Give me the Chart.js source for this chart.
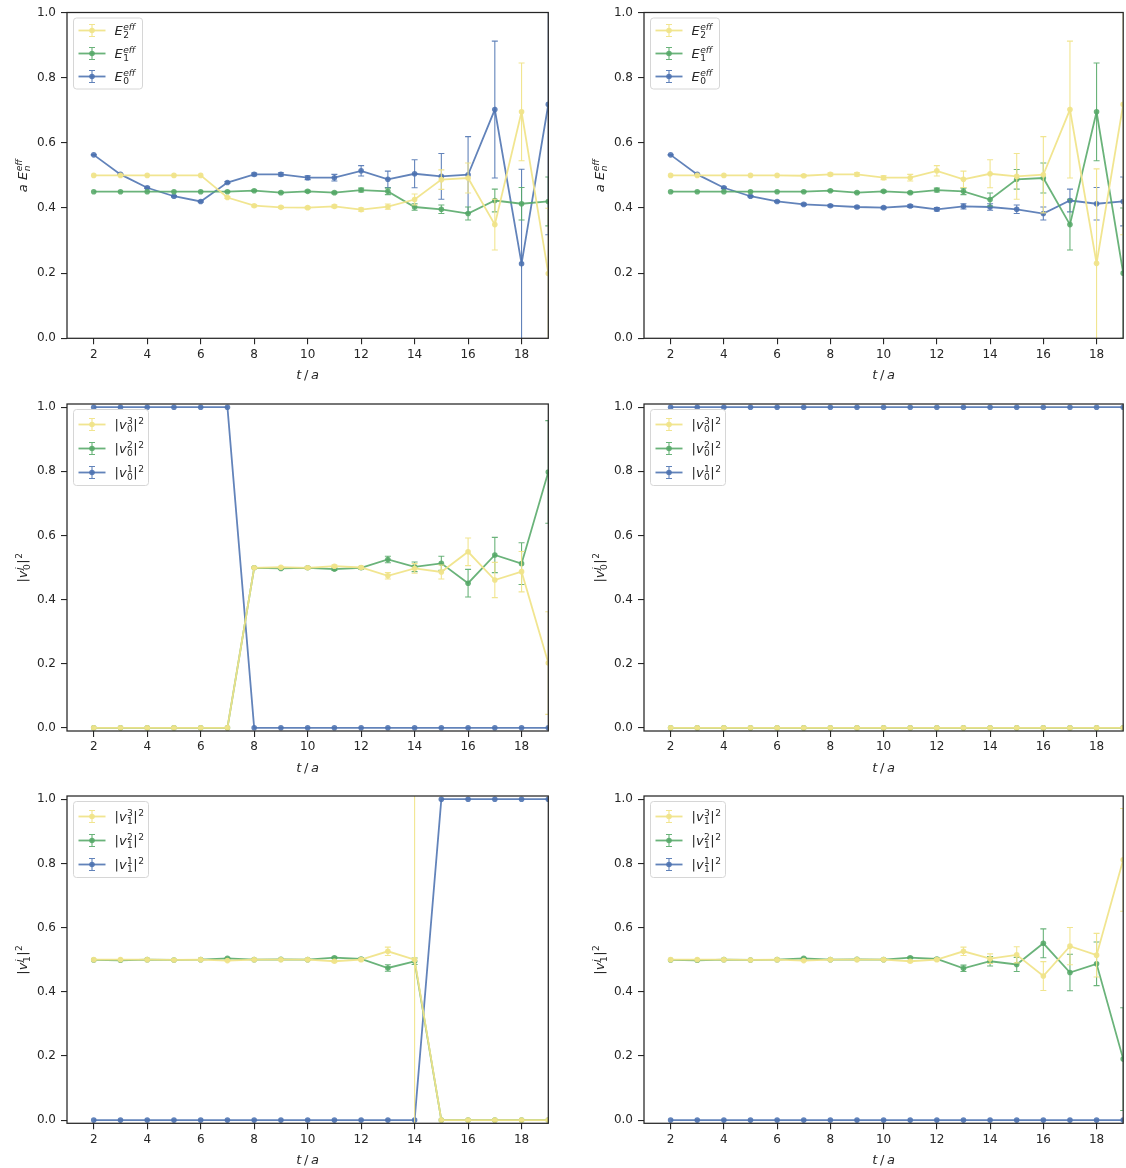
<!DOCTYPE html>
<html>
<head>
<meta charset="utf-8">
<script src="https://cdn.jsdelivr.net/npm/chart.js@4.4.1/dist/chart.umd.min.js"></script>
<style>
  html, body { margin: 0; padding: 0; background: #fff; }
  #fig { position: relative; width: 1126px; height: 1168px; overflow: hidden; }
  #fig canvas { position: absolute; }
</style>
</head>
<body>
<div id="fig"></div>
<script>
// time slices and axis ticks
const tVals  = [2, 3, 4, 5, 6, 7, 8, 9, 10, 11, 12, 13, 14, 15, 16, 17, 18, 19];
const xTicks = [2, 4, 6, 8, 10, 12, 14, 16, 18];
const yTicks = [0, 0.2, 0.4, 0.6, 0.8, 1.0];

// effective energies, first fit
const aE2    = [0.500, 0.500, 0.500, 0.500, 0.500, 0.432, 0.407, 0.402, 0.401, 0.405, 0.395, 0.404, 0.426, 0.487, 0.492, 0.349, 0.695, 0.199];
const aE2Err = [0, 0, 0, 0, 0, 0.003, 0.003, 0.003, 0.003, 0.004, 0.005, 0.008, 0.017, 0.030, 0.046, 0.078, 0.150, 0.200];
const aE1    = [0.450, 0.450, 0.450, 0.450, 0.450, 0.450, 0.453, 0.447, 0.451, 0.447, 0.455, 0.451, 0.403, 0.396, 0.383, 0.423, 0.413, 0.420];
const aE1Err = [0, 0, 0, 0, 0, 0.001, 0.002, 0.002, 0.003, 0.003, 0.006, 0.010, 0.010, 0.013, 0.020, 0.035, 0.050, 0.075];
const aE0    = [0.563, 0.503, 0.462, 0.436, 0.420, 0.478, 0.503, 0.503, 0.493, 0.493, 0.514, 0.488, 0.505, 0.497, 0.502, 0.702, 0.229, 0.718];
const aE0Err = [0.001, 0.001, 0.002, 0.002, 0.002, 0.003, 0.004, 0.005, 0.006, 0.010, 0.016, 0.025, 0.043, 0.070, 0.117, 0.210, 0.290, 0.400];

// effective energies, sorted
const bE2    = [0.500, 0.500, 0.500, 0.500, 0.500, 0.499, 0.503, 0.503, 0.493, 0.493, 0.514, 0.488, 0.505, 0.497, 0.502, 0.702, 0.230, 0.718];
const bE2Err = [0, 0, 0, 0, 0, 0.003, 0.004, 0.005, 0.006, 0.010, 0.016, 0.025, 0.043, 0.070, 0.117, 0.210, 0.290, 0.400];
const bE1    = [0.450, 0.450, 0.450, 0.450, 0.450, 0.450, 0.453, 0.447, 0.451, 0.447, 0.455, 0.451, 0.426, 0.488, 0.492, 0.349, 0.695, 0.200];
const bE1Err = [0, 0, 0, 0, 0, 0.001, 0.002, 0.002, 0.003, 0.003, 0.006, 0.010, 0.020, 0.030, 0.046, 0.078, 0.150, 0.200];
const bE0    = [0.563, 0.503, 0.462, 0.436, 0.420, 0.411, 0.407, 0.403, 0.401, 0.406, 0.396, 0.405, 0.403, 0.396, 0.383, 0.423, 0.413, 0.420];
const bE0Err = [0.001, 0.001, 0.002, 0.002, 0.002, 0.003, 0.003, 0.003, 0.003, 0.004, 0.005, 0.008, 0.010, 0.013, 0.020, 0.035, 0.050, 0.075];

// ground-state vector components
const cV3    = [0, 0, 0, 0, 0, 0, 0.499, 0.501, 0.499, 0.504, 0.500, 0.474, 0.497, 0.486, 0.549, 0.461, 0.487, 0.202];
const cV3Err = [0, 0, 0, 0, 0, 0, 0.002, 0.002, 0.003, 0.004, 0.004, 0.010, 0.015, 0.022, 0.043, 0.055, 0.063, 0.160];
const cV2    = [0, 0, 0, 0, 0, 0, 0.499, 0.497, 0.499, 0.495, 0.499, 0.525, 0.502, 0.513, 0.451, 0.539, 0.512, 0.798];
const cV2Err = [0, 0, 0, 0, 0, 0, 0.002, 0.002, 0.003, 0.004, 0.004, 0.010, 0.015, 0.022, 0.043, 0.055, 0.065, 0.160];
const cV1    = [1, 1, 1, 1, 1, 1, 0, 0, 0, 0, 0, 0, 0, 0, 0, 0, 0, 0];
const cV1Err = [0, 0, 0, 0, 0, 0, 0, 0, 0, 0, 0, 0, 0, 0, 0, 0, 0, 0];

const dV3    = [0, 0, 0, 0, 0, 0, 0, 0, 0, 0, 0, 0, 0, 0, 0, 0, 0, 0];
const dV3Err = [0, 0, 0, 0, 0, 0, 0, 0, 0, 0, 0, 0, 0, 0, 0, 0, 0, 0];
const dV2    = [0, 0, 0, 0, 0, 0, 0, 0, 0, 0, 0, 0, 0, 0, 0, 0, 0, 0];
const dV2Err = [0, 0, 0, 0, 0, 0, 0, 0, 0, 0, 0, 0, 0, 0, 0, 0, 0, 0];
const dV1    = [1, 1, 1, 1, 1, 1, 1, 1, 1, 1, 1, 1, 1, 1, 1, 1, 1, 1];
const dV1Err = [0, 0, 0, 0, 0, 0, 0, 0, 0, 0, 0, 0, 0, 0, 0, 0, 0, 0];

// first excited-state vector components
const eV3    = [0.500, 0.500, 0.500, 0.499, 0.500, 0.497, 0.500, 0.500, 0.500, 0.495, 0.500, 0.526, 0.500, 0, 0, 0, 0, 0];
const eV3Err = [0, 0, 0, 0, 0, 0.001, 0.001, 0.001, 0.002, 0.002, 0.003, 0.013, 0.600, 0, 0, 0, 0, 0];
const eV2    = [0.499, 0.498, 0.500, 0.499, 0.500, 0.504, 0.500, 0.501, 0.500, 0.506, 0.502, 0.474, 0.495, 0, 0, 0, 0, 0];
const eV2Err = [0, 0, 0, 0, 0, 0.001, 0.001, 0.001, 0.002, 0.002, 0.003, 0.010, 0.010, 0, 0, 0, 0, 0];
const eV1    = [0, 0, 0, 0, 0, 0, 0, 0, 0, 0, 0, 0, 0, 1, 1, 1, 1, 1];
const eV1Err = [0, 0, 0, 0, 0, 0, 0, 0, 0, 0, 0, 0, 0, 0, 0, 0, 0, 0];

const fV3    = [0.500, 0.500, 0.500, 0.499, 0.500, 0.497, 0.500, 0.500, 0.500, 0.495, 0.500, 0.526, 0.503, 0.515, 0.449, 0.542, 0.514, 0.811];
const fV3Err = [0, 0, 0, 0, 0, 0.001, 0.001, 0.001, 0.002, 0.002, 0.003, 0.013, 0.015, 0.025, 0.045, 0.058, 0.068, 0.160];
const fV2    = [0.499, 0.498, 0.500, 0.499, 0.500, 0.504, 0.500, 0.501, 0.500, 0.506, 0.502, 0.473, 0.495, 0.485, 0.551, 0.460, 0.487, 0.190];
const fV2Err = [0, 0, 0, 0, 0, 0.001, 0.001, 0.001, 0.002, 0.002, 0.003, 0.010, 0.015, 0.022, 0.045, 0.057, 0.068, 0.160];
const fV1    = [0, 0, 0, 0, 0, 0, 0, 0, 0, 0, 0, 0, 0, 0, 0, 0, 0, 0];
const fV1Err = [0, 0, 0, 0, 0, 0, 0, 0, 0, 0, 0, 0, 0, 0, 0, 0, 0, 0];

const COL = {
  yellow: 'rgba(240,228,138,0.95)',
  green:  'rgba(85,168,104,0.88)',
  blue:   'rgba(76,114,176,0.88)',
};
const INK  = '#262626';
const FONT = '"DejaVu Sans", sans-serif';

// label pieces: {t, it} is plain text, {sup, sub} is a stacked script group
const eLab = n => [{ t: 'E', it: 1 }, { sup: 'eff', supIt: 1, sub: String(n) }];
const vLab = (s, n) => [{ t: '|' }, { t: 'v', it: 1 }, { sup: String(n), sub: String(s) }, { t: '|' }, { sup: '2' }];
const Y_E  = [{ t: 'a', it: 1 }, { t: ' ' }, { t: 'E', it: 1 }, { sup: 'eff', supIt: 1, sub: 'n', subIt: 1 }];
const Y_V  = s => [{ t: '|' }, { t: 'v', it: 1 }, { sup: 'j', supIt: 1, sub: String(s) }, { t: '|' }, { sup: '2' }];
const X_T  = [{ t: 't', it: 1 }, { t: '\u2009/\u2009' }, { t: 'a', it: 1 }];

function mathRun(ctx, parts, size, x, y, draw) {
  let cx = x;
  const ss = size * 0.7;
  for (const p of parts) {
    if (p.t != null) {
      ctx.font = (p.it ? 'italic ' : '') + size + 'px ' + FONT;
      if (draw) ctx.fillText(p.t, cx, y);
      cx += ctx.measureText(p.t).width;
    } else {
      let w = 0;
      if (p.sup) {
        ctx.font = (p.supIt ? 'italic ' : '') + ss + 'px ' + FONT;
        if (draw) ctx.fillText(p.sup, cx + 0.5, y - size * 0.4);
        w = Math.max(w, ctx.measureText(p.sup).width);
      }
      if (p.sub) {
        ctx.font = (p.subIt ? 'italic ' : '') + ss + 'px ' + FONT;
        if (draw) ctx.fillText(p.sub, cx + 0.5, y + size * 0.22);
        w = Math.max(w, ctx.measureText(p.sub).width);
      }
      cx += w + 1;
    }
  }
  return cx - x;
}

// vertical error bars with caps, drawn just under each dataset's line
const errorBars = {
  id: 'errorBars',
  beforeDatasetDraw(chart, args) {
    const ds = chart.data.datasets[args.index];
    if (!ds.err) return;
    const { ctx, chartArea: a, scales: { x, y } } = chart;
    ctx.save();
    ctx.beginPath();
    ctx.rect(a.left, a.top, a.right - a.left, a.bottom - a.top);
    ctx.clip();
    ctx.strokeStyle = ds.borderColor;
    ctx.lineWidth = 1.1;
    ds.data.forEach((p, i) => {
      const e = ds.err[i];
      if (!e) return;
      const px = x.getPixelForValue(p.x);
      const y1 = y.getPixelForValue(p.y - e), y2 = y.getPixelForValue(p.y + e);
      ctx.beginPath();
      ctx.moveTo(px, y1); ctx.lineTo(px, y2);
      ctx.moveTo(px - 3, y1); ctx.lineTo(px + 3, y1);
      ctx.moveTo(px - 3, y2); ctx.lineTo(px + 3, y2);
      ctx.stroke();
    });
    ctx.restore();
  },
};

// axes frame, axis titles and the legend box
const decor = {
  id: 'decor',
  afterDraw(chart, args, o) {
    const { ctx, chartArea: a } = chart;
    ctx.save();
    ctx.strokeStyle = INK;
    ctx.lineWidth = 1.25;
    ctx.strokeRect(a.left, a.top, a.right - a.left, a.bottom - a.top);

    ctx.fillStyle = INK;
    ctx.textBaseline = 'alphabetic';
    const xw = mathRun(ctx, X_T, 13, 0, 0, false);
    mathRun(ctx, X_T, 13, (a.left + a.right) / 2 - xw / 2, a.bottom + 41, true);

    const yw = mathRun(ctx, o.yTitle, 13, 0, 0, false);
    ctx.save();
    ctx.translate(a.left - 40, (a.top + a.bottom) / 2);
    ctx.rotate(-Math.PI / 2);
    mathRun(ctx, o.yTitle, 13, -yw / 2, 0, true);
    ctx.restore();

    // legend
    const bx = a.left + 6.5, by = a.top + 5.5, bw = o.legW, bh = o.legH;
    ctx.beginPath();
    ctx.roundRect(bx, by, bw, bh, 3);
    ctx.fillStyle = 'rgba(255,255,255,0.85)';
    ctx.fill();
    ctx.strokeStyle = '#d6d6d6';
    ctx.lineWidth = 1;
    ctx.stroke();
    chart.data.datasets.forEach((ds, i) => {
      const cy = by + o.legFirst + i * o.legGap;
      const gx = bx + 18.5;
      ctx.strokeStyle = ds.borderColor;
      ctx.lineWidth = 1.8;
      ctx.beginPath(); ctx.moveTo(bx + 5, cy); ctx.lineTo(bx + 32, cy); ctx.stroke();
      ctx.lineWidth = 1.1;
      ctx.beginPath();
      ctx.moveTo(gx, cy - 6); ctx.lineTo(gx, cy + 6);
      ctx.moveTo(gx - 3, cy - 6); ctx.lineTo(gx + 3, cy - 6);
      ctx.moveTo(gx - 3, cy + 6); ctx.lineTo(gx + 3, cy + 6);
      ctx.stroke();
      ctx.fillStyle = ds.borderColor;
      ctx.beginPath(); ctx.arc(gx, cy, 2.8, 0, Math.PI * 2); ctx.fill();
      ctx.fillStyle = INK;
      mathRun(ctx, ds.math, 13, bx + 41, cy + 4.5, true);
    });
    ctx.restore();
  },
};

const COLS = [{ x: 0, w: 563, l: 67, r: 548.3 }, { x: 563, w: 563, l: 81, r: 561.7 }];
const ROWS = [
  { y: 0,   h: 390, t: 12.5, b: 338.3, ymin: 0,     ymax: 1 },
  { y: 390, h: 390, t: 14,   b: 341,   ymin: -0.01, ymax: 1.01 },
  { y: 780, h: 388, t: 16,   b: 343.3, ymin: -0.01, ymax: 1.01 },
];

const PANELS = [
  { col: 0, row: 0, yTitle: Y_E, labs: [eLab(2), eLab(1), eLab(0)], series: [[aE2, aE2Err], [aE1, aE1Err], [aE0, aE0Err]] },
  { col: 1, row: 0, yTitle: Y_E, labs: [eLab(2), eLab(1), eLab(0)], series: [[bE2, bE2Err], [bE1, bE1Err], [bE0, bE0Err]] },
  { col: 0, row: 1, yTitle: Y_V(0), labs: [vLab(0, 3), vLab(0, 2), vLab(0, 1)], series: [[cV3, cV3Err], [cV2, cV2Err], [cV1, cV1Err]] },
  { col: 1, row: 1, yTitle: Y_V(0), labs: [vLab(0, 3), vLab(0, 2), vLab(0, 1)], series: [[dV3, dV3Err], [dV2, dV2Err], [dV1, dV1Err]] },
  { col: 0, row: 2, yTitle: Y_V(1), labs: [vLab(1, 3), vLab(1, 2), vLab(1, 1)], series: [[eV3, eV3Err], [eV2, eV2Err], [eV1, eV1Err]] },
  { col: 1, row: 2, yTitle: Y_V(1), labs: [vLab(1, 3), vLab(1, 2), vLab(1, 1)], series: [[fV3, fV3Err], [fV2, fV2Err], [fV1, fV1Err]] },
];

const fig = document.getElementById('fig');
const palette = [COL.yellow, COL.green, COL.blue];

PANELS.forEach(P => {
  const C = COLS[P.col], R = ROWS[P.row];
  const cv = document.createElement('canvas');
  cv.width = C.w; cv.height = R.h;
  cv.style.left = C.x + 'px'; cv.style.top = R.y + 'px';
  fig.append(cv);

  const isE = P.row === 0;
  // dataset 0 is painted last, so the first legend entry sits on top
  const datasets = P.series.map(([vals, errs], i) => ({
    data: tVals.map((t, k) => ({ x: t, y: vals[k] })),
    err: errs,
    math: P.labs[i],
    borderColor: palette[i],
    backgroundColor: palette[i],
    pointBackgroundColor: palette[i],
    borderWidth: 1.8,
    pointRadius: 2.8,
    pointBorderWidth: 0,
    pointHoverRadius: 2.8,
    tension: 0,
    clip: 0,
  }));

  const tickCfg = { color: INK, font: { family: FONT, size: 12 } };
  new Chart(cv, {
    type: 'line',
    data: { datasets },
    options: {
      responsive: false,
      animation: false,
      events: [],
      layout: { padding: { left: 0, top: R.t, right: C.w - C.r, bottom: 0 } },
      plugins: {
        legend: { display: false },
        tooltip: { enabled: false },
        decor: {
          yTitle: P.yTitle,
          legW: isE ? 69 : 75,
          legH: isE ? 71 : 76,
          legFirst: isE ? 12.5 : 15,
          legGap: isE ? 23 : 24,
        },
      },
      scales: {
        x: {
          type: 'linear', min: 1, max: 19,
          afterBuildTicks: s => { s.ticks = xTicks.map(v => ({ value: v })); },
          afterFit: s => { s.height = R.h - R.b; },
          ticks: { ...tickCfg, padding: 3, maxRotation: 0, callback: v => String(v) },
          grid: { drawOnChartArea: false, drawTicks: true, tickLength: 6, color: INK, lineWidth: 1.1 },
          border: { display: false },
        },
        y: {
          type: 'linear', min: R.ymin, max: R.ymax,
          afterBuildTicks: s => { s.ticks = yTicks.map(v => ({ value: v })); },
          afterFit: s => { s.width = C.l; },
          ticks: { ...tickCfg, padding: 5, callback: v => v.toFixed(1) },
          grid: { drawOnChartArea: false, drawTicks: true, tickLength: 6, color: INK, lineWidth: 1.1 },
          border: { display: false },
        },
      },
    },
    plugins: [errorBars, decor],
  });
});
</script>
</body>
</html>
